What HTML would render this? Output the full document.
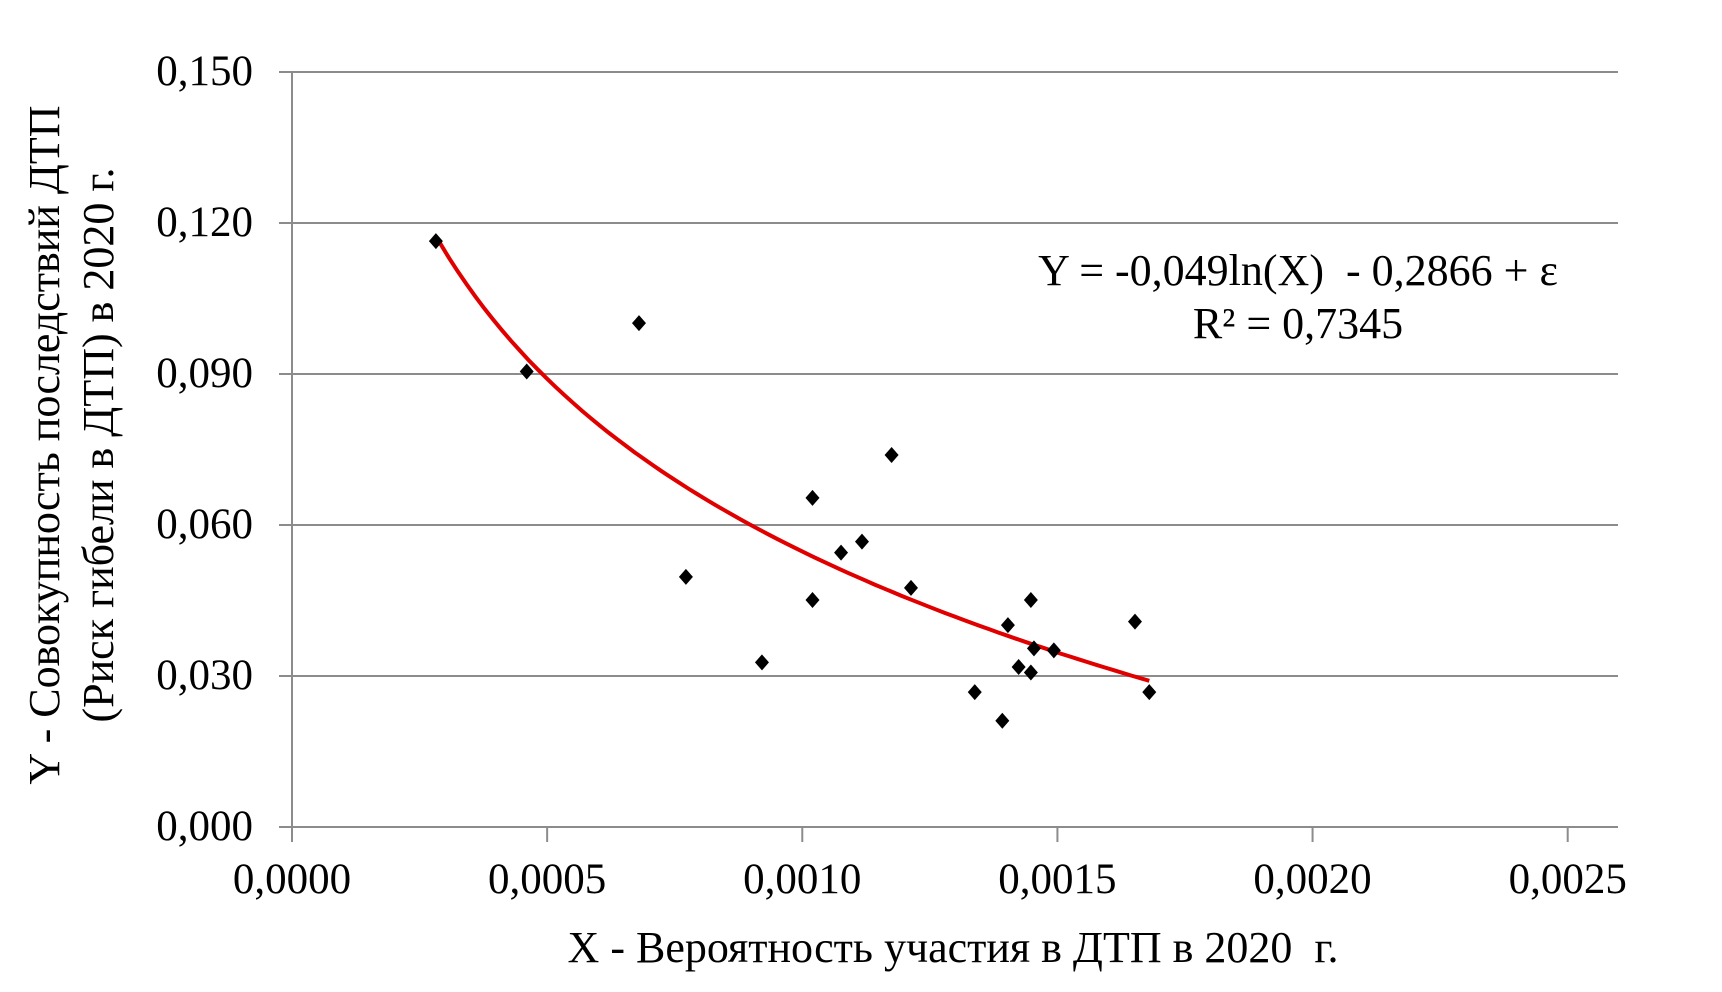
<!DOCTYPE html>
<html><head><meta charset="utf-8"><style>
html,body{margin:0;padding:0;background:#fff;}
svg{display:block;font-family:"Liberation Serif",serif;}
</style></head><body>
<svg id="chart" width="1722" height="992" viewBox="0 0 1722 992" xmlns="http://www.w3.org/2000/svg">
<g id="grid"></g>
<g id="axes"></g>
<g id="trend"></g>
<g id="points"></g>
<text transform="translate(59,445) rotate(-90)" text-anchor="middle" font-size="44">Y - Совокупность последствий ДТП</text>
<text transform="translate(113,445) rotate(-90)" text-anchor="middle" font-size="44">(Риск гибели в ДТП) в 2020 г.</text>
<text x="953" y="962" text-anchor="middle" font-size="44" xml:space="preserve">X - Вероятность участия в ДТП в 2020  г.</text>
<text x="1298" y="285" text-anchor="middle" font-size="44" xml:space="preserve">Y = -0,049ln(X)  - 0,2866 + ε</text>
<text x="1298" y="338" text-anchor="middle" font-size="44">R² = 0,7345</text>
</svg>
<script>
const xVals=[0.000282,0.000460,0.000680,0.000772,0.000921,0.00102,0.00102,0.001076,0.001117,0.001175,0.001213,0.001338,0.001392,0.001403,0.001424,0.001448,0.001448,0.001454,0.001493,0.001652,0.00168];
const yVals=[0.1164,0.0905,0.1001,0.0497,0.0327,0.0654,0.0451,0.0545,0.0567,0.0739,0.0475,0.0268,0.0211,0.0401,0.0318,0.0451,0.0307,0.0355,0.0351,0.0408,0.0268];
const yTicks=[0,0.03,0.06,0.09,0.12,0.15];
const yTickLabels=["0,000","0,030","0,060","0,090","0,120","0,150"];
const xTicks=[0,0.0005,0.001,0.0015,0.002,0.0025];
const xTickLabels=["0,0000","0,0005","0,0010","0,0015","0,0020","0,0025"];
const trendCoef=[-0.0495,-0.2872];
const trendRange=[0.00029,0.00168];
const NS="http://www.w3.org/2000/svg";
const X0=292,X1=1618,Y0=827,Y1=72;
const sx=v=>X0+v/0.0025*(1567.7-X0);
const sy=v=>Y0-v/0.15*(Y0-Y1);
function mk(tag,attrs,parent){const e=document.createElementNS(NS,tag);for(const k in attrs)e.setAttribute(k,attrs[k]);parent.appendChild(e);return e;}
const grid=document.getElementById('grid'),axes=document.getElementById('axes');
yTicks.forEach((t,i)=>{
  const y=sy(t);
  if(t>0){const l=mk('line',{x1:279,x2:X1,y1:y,y2:y,stroke:'#8c8c8c','stroke-width':2},grid);
  
  }
  const tx=mk('text',{x:253,y:y+13,'text-anchor':'end','font-size':43},axes);
  tx.textContent=yTickLabels[i];
  
  
});
const xa=mk('line',{x1:279,x2:X1,y1:Y0,y2:Y0,stroke:'#8c8c8c','stroke-width':2},axes);


const ya=mk('line',{x1:X0,x2:X0,y1:Y1,y2:Y0,stroke:'#8c8c8c','stroke-width':2},axes);


xTicks.forEach((t,i)=>{
  const x=sx(t);
  const tk=mk('line',{x1:x,x2:x,y1:Y0,y2:842,stroke:'#8c8c8c','stroke-width':2},axes);
  
  
  const tx=mk('text',{x:x,y:893,'text-anchor':'middle','font-size':43},axes);
  tx.textContent=xTickLabels[i];
  
  
});
let d='';
for(let i=0;i<=80;i++){const xv=trendRange[0]+(trendRange[1]-trendRange[0])*i/80;const yv=trendCoef[0]*Math.log(xv)+trendCoef[1];d+=(i?'L':'M')+sx(xv).toFixed(1)+','+sy(yv).toFixed(1);}
const tp=mk('path',{d:d,fill:'none',stroke:'#e00000','stroke-width':4},document.getElementById('trend'));


const pg=document.getElementById('points');
xVals.forEach((xv,i)=>{
  const x=sx(xv),y=sy(yVals[i]),r=8;
  const p=mk('polygon',{points:`${x},${y-r} ${x+r-1},${y} ${x},${y+r} ${x-r+1},${y}`,fill:'#000'},pg);
  
  
});
</script>
</body></html>
